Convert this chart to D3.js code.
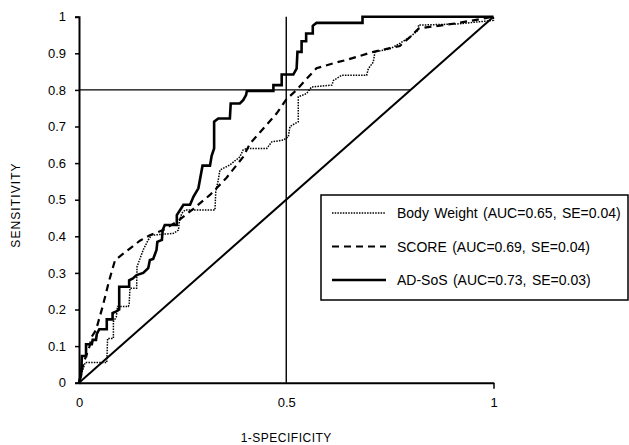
<!DOCTYPE html>
<html>
<head>
<meta charset="utf-8">
<script src="https://cdn.jsdelivr.net/npm/d3@7"></script>
<style>
  body { margin: 0; background: #fff; }
  svg { display: block; font-family: "Liberation Sans", Arial, sans-serif; }
</style>
</head>
<body>
<svg width="629" height="445"></svg>
<script>
// ROC curves, [1-specificity, sensitivity]
var bodyWeight = [[0,0],[0.005,0.02],[0.009,0.035],[0.015,0.055],[0.067,0.055],[0.069,0.121],[0.083,0.121],[0.083,0.167],
  [0.09,0.18],[0.093,0.208],[0.119,0.208],[0.121,0.216],[0.123,0.258],[0.139,0.258],[0.14,0.317],[0.155,0.363],[0.167,0.39],
  [0.175,0.403],[0.228,0.408],[0.24,0.417],[0.242,0.44],[0.248,0.463],[0.256,0.472],[0.328,0.472],[0.33,0.522],[0.336,0.554],
  [0.34,0.581],[0.364,0.595],[0.388,0.617],[0.396,0.636],[0.405,0.64],[0.453,0.64],[0.465,0.658],[0.493,0.663],[0.505,0.672],
  [0.509,0.7],[0.529,0.713],[0.529,0.781],[0.549,0.79],[0.561,0.808],[0.61,0.813],[0.614,0.826],[0.634,0.84],[0.694,0.84],
  [0.698,0.858],[0.71,0.876],[0.714,0.904],[0.75,0.912],[0.774,0.927],[0.799,0.945],[0.819,0.964],[0.819,0.977],[0.911,0.98],
  [1,0.99],[1,1]];

var score = [[0,0],[0.01,0.05],[0.025,0.098],[0.031,0.126],[0.041,0.144],[0.057,0.208],[0.073,0.28],[0.087,0.335],
  [0.103,0.349],[0.147,0.388],[0.171,0.403],[0.203,0.417],[0.236,0.44],[0.276,0.475],[0.316,0.513],[0.328,0.527],[0.356,0.56],
  [0.396,0.617],[0.413,0.654],[0.477,0.736],[0.501,0.775],[0.525,0.8],[0.549,0.83],[0.573,0.859],[0.614,0.873],[0.646,0.882],
  [0.71,0.904],[0.75,0.914],[0.774,0.92],[0.799,0.945],[0.82,0.968],[0.911,0.982],[1,1]];

var adSos = [[0,0],[0.005,0.02],[0.007,0.073],[0.017,0.073],[0.017,0.105],[0.031,0.105],[0.033,0.117],[0.041,0.117],
  [0.043,0.133],[0.049,0.146],[0.067,0.146],[0.067,0.173],[0.081,0.173],[0.081,0.19],[0.09,0.195],[0.097,0.2],[0.097,0.262],
  [0.121,0.262],[0.121,0.28],[0.13,0.285],[0.139,0.294],[0.155,0.3],[0.167,0.313],[0.171,0.335],[0.179,0.338],[0.187,0.363],
  [0.189,0.385],[0.2,0.39],[0.202,0.417],[0.207,0.431],[0.236,0.431],[0.236,0.458],[0.244,0.472],[0.252,0.486],[0.268,0.486],
  [0.276,0.508],[0.288,0.531],[0.298,0.593],[0.316,0.593],[0.32,0.62],[0.326,0.64],[0.326,0.713],[0.336,0.722],[0.364,0.722],
  [0.366,0.763],[0.388,0.763],[0.396,0.772],[0.403,0.786],[0.405,0.797],[0.469,0.797],[0.469,0.813],[0.489,0.813],
  [0.489,0.842],[0.517,0.842],[0.525,0.858],[0.527,0.904],[0.537,0.904],[0.537,0.933],[0.548,0.933],[0.548,0.954],
  [0.564,0.954],[0.564,0.975],[0.573,0.983],[0.684,0.983],[0.684,1],[1,1]];

var seriesNames = ["Body Weight", "SCORE", "AD-SoS"];
var seriesLabels = ["Body Weight (AUC=0.65, SE=0.04)", "SCORE (AUC=0.69, SE=0.04)", "AD-SoS (AUC=0.73, SE=0.03)"];
var xTicks = [0, 0.5, 1];
var yTicks = [0, 0.1, 0.2, 0.3, 0.4, 0.5, 0.6, 0.7, 0.8, 0.9, 1];
var cutX = 0.5, cutY = 0.8;

var styles = {
  "Body Weight": {dash: "1.5,1.2", width: 1.5},
  "SCORE": {dash: "7,5", width: 2.2},
  "AD-SoS": {dash: null, width: 2.6}
};

var svg = d3.select("svg"),
    margin = {top: 16.7, left: 79},
    width = 414.5,
    height = 366,
    g = svg.append("g").attr("transform", "translate(" + margin.left + "," + margin.top + ")");

var x = d3.scaleLinear().domain([0, 1]).range([0, width]);
var y = d3.scaleLinear().domain([0, 1]).range([height, 0]);

// axes
var yAxis = g.append("g")
    .call(d3.axisLeft(y).tickValues(yTicks).tickSize(4).tickPadding(9)
      .tickFormat(function(d) { return String(+d.toFixed(1)); }));
var xAxis = g.append("g")
    .attr("transform", "translate(0," + height + ")")
    .call(d3.axisBottom(x).tickValues(xTicks).tickSizeInner(0).tickSizeOuter(0).tickPadding(15)
      .tickFormat(function(d) { return String(d); }));
xAxis.selectAll(".tick").filter(function(d) { return d === 1; }).select("line").attr("y2", 6);

[yAxis, xAxis].forEach(function(a) {
  a.select(".domain").attr("stroke", "#000").attr("stroke-width", 2);
  a.selectAll(".tick line").attr("stroke", "#000").attr("stroke-width", 1.5);
  a.selectAll("text").attr("font-size", 13).attr("fill", "#000")
    .attr("font-family", "'Liberation Sans', Arial, sans-serif");
});

// reference lines
g.append("line")
    .attr("x1", x(0)).attr("y1", y(0)).attr("x2", x(1)).attr("y2", y(1))
    .attr("stroke", "#000").attr("stroke-width", 2);
g.append("line")
    .attr("x1", x(cutX)).attr("y1", y(0)).attr("x2", x(cutX)).attr("y2", y(1))
    .attr("stroke", "#000").attr("stroke-width", 1.4);
g.append("line")
    .attr("x1", x(0)).attr("y1", y(cutY)).attr("x2", x(cutY)).attr("y2", y(cutY))
    .attr("stroke", "#000").attr("stroke-width", 1.4);

// curves
var line = d3.line()
    .x(function(d) { return x(d[0]); })
    .y(function(d) { return y(d[1]); });

var curves = [bodyWeight, score, adSos];
g.selectAll(".roc")
  .data(curves)
  .enter().append("path")
    .attr("class", "roc")
    .attr("fill", "none")
    .attr("stroke", "#000")
    .attr("stroke-linejoin", "miter")
    .attr("stroke-width", function(d, i) { return styles[seriesNames[i]].width; })
    .attr("stroke-dasharray", function(d, i) { return styles[seriesNames[i]].dash; })
    .attr("d", line);

// axis titles
svg.append("text")
    .attr("transform", "translate(19.5,205) rotate(-90)")
    .attr("text-anchor", "middle")
    .attr("font-size", 12)
    .attr("letter-spacing", 1.1)
    .text("SENSITIVITY");
svg.append("text")
    .attr("x", margin.left + x(0.5))
    .attr("y", 442)
    .attr("text-anchor", "middle")
    .attr("font-size", 12)
    .attr("letter-spacing", 0.5)
    .text("1-SPECIFICITY");

// legend
var legend = svg.append("g");
legend.append("rect")
    .attr("x", 321).attr("y", 195).attr("width", 307).attr("height", 105)
    .attr("fill", "#fff").attr("stroke", "#000").attr("stroke-width", 1.5);

var item = legend.selectAll(".item")
  .data(seriesNames)
  .enter().append("g")
    .attr("class", "item")
    .attr("transform", function(d, i) { return "translate(0," + (213 + i * 33.5) + ")"; });

item.append("line")
    .attr("x1", 332).attr("x2", 386)
    .attr("stroke", "#000")
    .attr("stroke-width", function(d) { return styles[d].width; })
    .attr("stroke-dasharray", function(d) { return styles[d].dash; });

item.append("text")
    .attr("x", 397)
    .attr("dy", "0.36em")
    .attr("font-size", 14)
    .attr("word-spacing", 1.5)
    .text(function(d, i) { return seriesLabels[i]; });
</script>
</body>
</html>
